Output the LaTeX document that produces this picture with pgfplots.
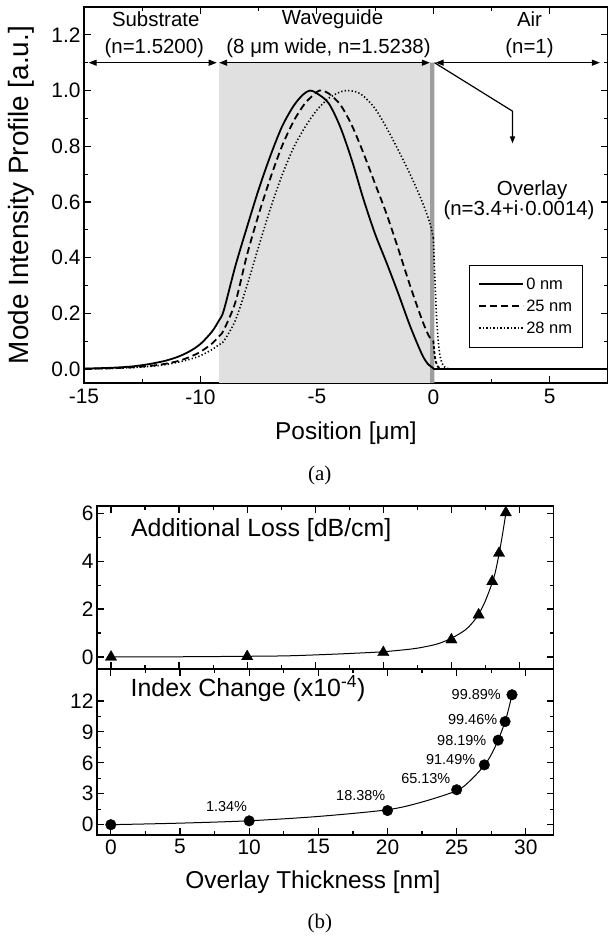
\documentclass[border=0pt]{standalone}
\usepackage{fontspec}
\setmainfont{Liberation Sans}
\newfontfamily\seriffont{Liberation Serif}
\usepackage{pgfplots}
\pgfplotsset{compat=1.18}
\usetikzlibrary{arrows.meta}

\pgfplotstableread{
x y
-15 0.0015
-14 0.004
-13.5 0.006
-13 0.009
-12.5 0.014
-12 0.021
-11.5 0.03
-11 0.043
-10.5 0.062
-10 0.09
-9.5 0.135
-9.2 0.175
-9.0 0.21
-8.5 0.37
-8.0 0.51
-7.5 0.645
-7.0 0.765
-6.5 0.87
-6.0 0.945
-5.6 0.985
-5.3 1.0
-5.0 0.99
-4.5 0.955
-4.0 0.87
-3.5 0.75
-3.0 0.61
-2.5 0.485
-2.0 0.38
-1.5 0.27
-1.0 0.155
-0.5 0.055
-0.25 0.02
0 0.003
}\solid

\pgfplotstableread{
x y
-15 0.001
-14 0.0025
-13 0.006
-12.5 0.009
-12 0.013
-11.5 0.019
-11 0.028
-10.5 0.042
-10 0.062
-9.5 0.092
-9.2 0.118
-9.0 0.14
-8.5 0.24
-8.0 0.41
-7.5 0.555
-7.0 0.685
-6.5 0.8
-6.0 0.89
-5.5 0.955
-5.0 0.995
-4.8 1.0
-4.5 0.99
-4.0 0.95
-3.5 0.875
-3.0 0.775
-2.5 0.665
-2.0 0.555
-1.5 0.43
-1.0 0.3
-0.5 0.18
-0.2 0.12
0 0.1
}\dashed

\pgfplotstableread{
x y
0 0.1
0.05 0.055
0.1 0.028
0.2 0.008
0.3 0.002
0.4 0
}\dasheddrop

\pgfplotstableread{
x y
-15 0.001
-14 0.002
-13 0.005
-12 0.011
-11.5 0.016
-11 0.024
-10.5 0.034
-10 0.048
-9.5 0.07
-9.2 0.088
-9.0 0.1
-8.5 0.175
-8.0 0.3
-7.5 0.44
-7.0 0.575
-6.5 0.695
-6.0 0.795
-5.5 0.87
-5.0 0.93
-4.5 0.972
-4.0 0.995
-3.7 1.0
-3.3 0.995
-3.0 0.98
-2.5 0.935
-2.0 0.865
-1.5 0.785
-1.0 0.7
-0.5 0.605
-0.15 0.525
0 0.47
}\dotted

\pgfplotstableread{
x y
0 0.47
0.03 0.4
0.08 0.3
0.13 0.2
0.2 0.11
0.28 0.05
0.38 0.02
0.5 0.006
0.7 0
}\dotteddrop

\pgfplotstableread{
x y
0 0
7.5 0
}\airzero

\pgfplotstableread{
x y
0 0.0
10 0.02
20 0.19
25 0.72
27 1.76
28 3.15
28.5 4.33
29 6.02
}\lossdata

\pgfplotstableread{
x y
0 0.0
5 0.01
10 0.03
13 0.05
16 0.11
18 0.16
20 0.22
22 0.33
23 0.42
24 0.55
25 0.78
26 1.12
26.5 1.4
27 1.78
27.5 2.35
28 3.1
28.25 3.6
28.5 4.3
28.75 5.1
29 6.0
29.05 6.2
}\lossfit

\pgfplotstableread{
x y
0 0.0
10 0.37
20 1.37
25 3.39
27 5.8
28 8.2
28.5 10.0
29 12.6
}\indexdata

\pgfplotstableread{
x y
0 0
5 0.15
10 0.38
15 0.8
20 1.45
22.5 2.2
25 3.3
26 4.3
27 5.75
27.5 6.8
28 8.2
28.5 10.0
28.75 11.2
29 12.6
29.05 12.9
}\indexfit

\pgfplotsset{
  myaxis/.style={
    scale only axis,
    axis line style={line width=1.7bp},
    every tick/.style={black, line width=1.2bp},
    major tick length=7bp,
    minor tick length=4bp,
    tick label style={font=\fontsize{21}{22}\selectfont},
    /pgf/number format/assume math mode=true,
    label style={font=\fontsize{24.5}{26}\selectfont},
    clip mode=individual,
  }
}

\begin{document}
\begin{tikzpicture}
\path[use as bounding box] (0,0) rectangle (608bp,936bp);

% ---------------- (a) ----------------
\begin{axis}[myaxis,
  at={(84bp,553bp)}, anchor=south west,
  width=524bp, height=376bp,
  xmin=-15, xmax=7.5, ymin=-0.05, ymax=1.3,
  xtick={-15,-10,-5,0,5}, xticklabels={-15,-10,-5,0,5},
  ytick={0,0.2,0.4,0.6,0.8,1.0,1.2},
  yticklabels={0.0,0.2,0.4,0.6,0.8,1.0,1.2},
  minor x tick num=1, minor y tick num=1,
  xticklabel style={yshift=-3bp},
  xlabel={Position [μm]},
  ylabel={Mode Intensity Profile [a.u.]},
  xlabel style={at={(axis description cs:0.5,-0.133)}, anchor=center},
  ylabel style={at={(axis description cs:-0.12,0.5)}, anchor=center, font=\fontsize{28}{30}\selectfont},
  legend style={at={(axis cs:1.55,0.375)}, anchor=north west,
    draw=black, line width=1bp, fill=white,
    font=\fontsize{16.5}{18}\selectfont,
    inner xsep=8.6bp, inner ysep=10bp,
    nodes={inner sep=2bp, text height=12bp, text depth=2bp},
    row sep=4bp},
  legend cell align=left,
  legend image code/.code={\draw[#1] (0bp,0bp) -- (44bp,0bp);},
]
\addplot[fill=black!12, draw=none, forget plot] coordinates {(-9.2,-0.05) (0,-0.05) (0,1.1) (-9.2,1.1) (-9.2,-0.05)};
\addplot[fill=black!38, draw=none, forget plot] coordinates {(-0.14,-0.05) (0.04,-0.05) (0.04,1.1) (-0.14,1.1) (-0.14,-0.05)};

\addplot[black, line width=1.8bp, smooth, tension=0.5] table[x=x,y=y] {\solid};
\addplot[black, line width=1.8bp, dash pattern=on 7bp off 4bp, smooth, tension=0.5] table[x=x,y=y] {\dashed};
\addplot[black, line width=1.6bp, dash pattern=on 1.3bp off 2.2bp, smooth, tension=0.5] table[x=x,y=y] {\dotted};
\legend{0 nm, 25 nm, 28 nm}
\addplot[black, line width=1.8bp, dash pattern=on 3bp off 2bp, smooth, tension=0.4, forget plot] table[x=x,y=y] {\dasheddrop};
\addplot[black, line width=1.6bp, dash pattern=on 1.3bp off 2.2bp, smooth, tension=0.4, forget plot] table[x=x,y=y] {\dotteddrop};
\addplot[black, line width=1.8bp, forget plot] table[x=x,y=y] {\airzero};

\addplot[black, line width=1.2bp, arrows={Triangle[length=8bp,width=6bp]-Triangle[length=8bp,width=6bp]}, forget plot] coordinates {(-14.8,1.1) (-9.3,1.1)};
\addplot[black, line width=1.2bp, arrows={Triangle[length=8bp,width=6bp]-Triangle[length=8bp,width=6bp]}, forget plot] coordinates {(-9.2,1.1) (-0.15,1.1)};
\addplot[black, line width=1.2bp, arrows={Triangle[length=8bp,width=6bp]-Triangle[length=8bp,width=6bp]}, forget plot] coordinates {(0.1,1.1) (7.15,1.1)};
\addplot[black, line width=1.2bp, arrows={-Triangle[length=7bp,width=5bp]}, forget plot] coordinates {(0.05,1.1) (3.4,0.926) (3.4,0.81)};

\begin{scope}[font=\fontsize{20.5}{22}\selectfont]
\node at (axis cs:-11.92,1.255) {Substrate};
\node at (axis cs:-11.98,1.153) {(n=1.5200)};
\node at (axis cs:-4.33,1.255) {Waveguide};
\node at (axis cs:-4.5,1.153) {(8 μm wide, n=1.5238)};
\node at (axis cs:4.13,1.255) {Air};
\node at (axis cs:4.13,1.153) {(n=1)};
\node at (axis cs:4.24,0.643) {Overlay};
\node at (axis cs:3.68,0.570) {(n=3.4+i·0.0014)};
\end{scope}
\node[font=\seriffont\fontsize{21}{23}\selectfont] at (axis description cs:0.45,-0.245) {(a)};
\end{axis}

% ---------------- (b) top ----------------
\begin{axis}[myaxis,
  at={(97bp,267bp)}, anchor=south west,
  width=456.5bp, height=163bp,
  xmin=-1.03, xmax=32.5, ymin=-0.5, ymax=6.3,
  xtick={0,5,10,15,20,25,30}, xticklabels={},
  ytick={0,2,4,6},
  minor x tick num=1, minor y tick num=1,
]
\addplot[black, line width=1bp, smooth, tension=0.5] table[x=x,y=y] {\lossfit};
\addplot[black, only marks, mark=triangle*, mark size=6.5bp] table[x=x,y=y] {\lossdata};
\node[anchor=west, font=\fontsize{25}{27}\selectfont] at (axis description cs:0.067,0.853) {Additional Loss [dB/cm]};
\end{axis}

% ---------------- (b) bottom ----------------
\begin{axis}[myaxis,
  at={(97bp,101bp)}, anchor=south west,
  width=456.5bp, height=166bp,
  xmin=-1, xmax=32, ymin=-1, ymax=15.1,
  xtick={0,5,10,15,20,25,30},
  ytick={0,3,6,9,12},
  minor x tick num=1, minor y tick num=1,
  xticklabel style={yshift=-1bp},
  xlabel={Overlay Thickness [nm]},
  xlabel style={at={(axis description cs:0.473,-0.283)}, anchor=center},
]
\addplot[black, line width=1bp, smooth, tension=0.5] table[x=x,y=y] {\indexfit};
\addplot[black, only marks, mark=*, mark size=5.3bp] table[x=x,y=y] {\indexdata};
\node[anchor=west, font=\fontsize{25}{27}\selectfont] at (axis description cs:0.066,0.88) {Index Change (x10\textsuperscript{-4})};
\begin{scope}[font=\fontsize{14.5}{16}\selectfont, inner sep=0pt]
\node[anchor=east] at (axis cs:28.2,12.6) {99.89\%};
\node[anchor=east] at (axis cs:27.94,10.2) {99.46\%};
\node[anchor=east] at (axis cs:27.15,8.2) {98.19\%};
\node[anchor=east] at (axis cs:26.35,6.3) {91.49\%};
\node[anchor=east] at (axis cs:24.55,4.5) {65.13\%};
\node[anchor=east] at (axis cs:19.85,2.83) {18.38\%};
\node[anchor=east] at (axis cs:9.86,1.76) {1.34\%};
\end{scope}
\node[font=\seriffont\fontsize{21}{23}\selectfont] at (axis description cs:0.488,-0.53) {(b)};
\end{axis}
\end{tikzpicture}
\end{document}
